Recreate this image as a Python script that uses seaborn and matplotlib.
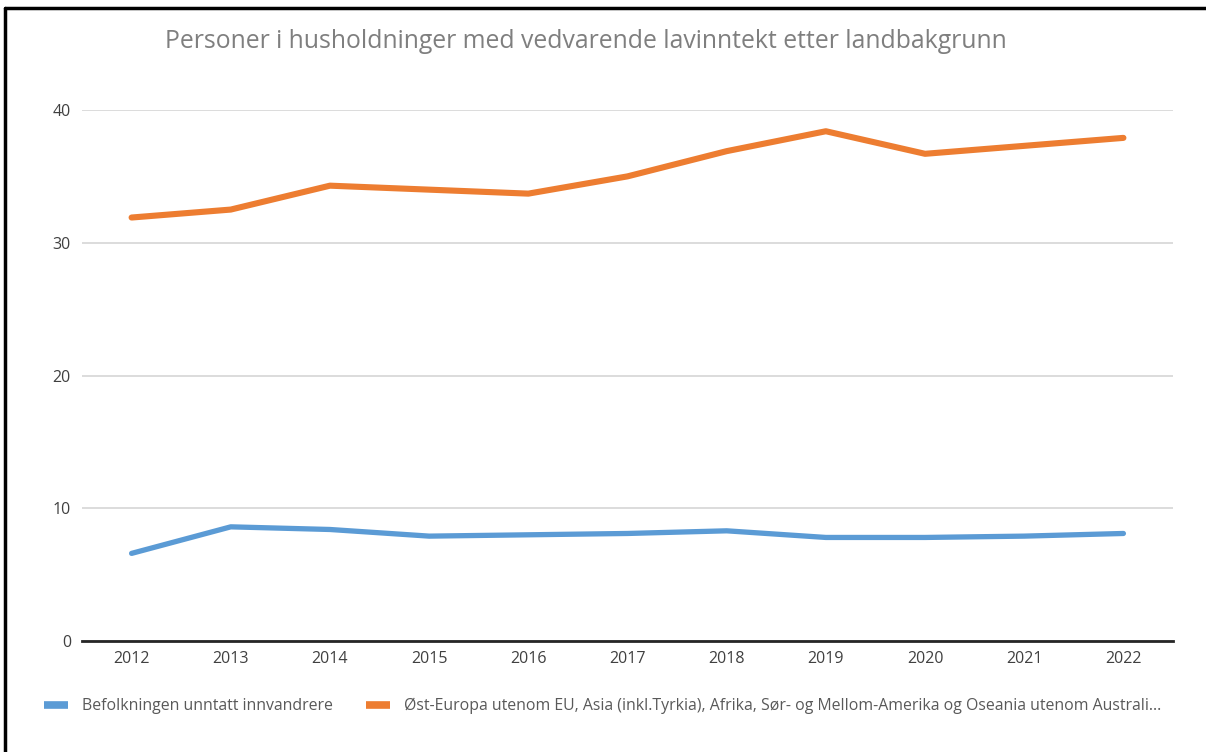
import matplotlib
matplotlib.use("Agg")
import matplotlib.pyplot as plt
import seaborn as sns
import pandas as pd
from matplotlib.lines import Line2D

years = [2012, 2013, 2014, 2015, 2016, 2017, 2018, 2019, 2020, 2021, 2022]
befolkning = [6.6, 8.6, 8.4, 7.9, 8.0, 8.1, 8.3, 7.8, 7.8, 7.9, 8.1]
ost_europa = [31.9, 32.5, 34.3, 34.0, 33.7, 35.0, 36.9, 38.4, 36.7, 37.3, 37.9]
series_names = ["Befolkningen unntatt innvandrere",
                "Øst-Europa utenom EU, Asia (inkl.Tyrkia), Afrika, Sør- og Mellom-Amerika og Oseania utenom Australi..."]
title = "Personer i husholdninger med vedvarende lavinntekt etter landbakgrunn"
yticks = [0, 10, 20, 30, 40]

sns.set_theme(style="white")
plt.rcParams['font.family'] = ['Open Sans', 'DejaVu Sans']

df = pd.DataFrame({
    "pos": list(range(len(years))) * 2,
    "value": befolkning + ost_europa,
    "series": [series_names[0]] * len(years) + [series_names[1]] * len(years),
})

fig = plt.figure(figsize=(12.06, 7.52), dpi=100)
ax = fig.add_axes([82/1206, 1 - 641/752, (1173-82)/1206, (641-110)/752])

colors = ["#5b9bd5", "#ed7d31"]
widths = [3.8, 4.4]
for i, name in enumerate(series_names):
    sub = df[df["series"] == name]
    sns.lineplot(data=sub, x="pos", y="value", ax=ax, color=colors[i],
                 linewidth=widths[i], legend=False, zorder=3)

ax.set_xlim(-0.5, len(years) - 0.5)
ax.set_ylim(0, 40)
ax.set_yticks(yticks)
ax.set_yticklabels([str(t) for t in yticks])
ax.set_xticks(range(len(years)))
ax.set_xticklabels([str(y) for y in years])
ax.set_xlabel("")
ax.set_ylabel("")
ax.grid(axis="y", color="#d9d9d9", linewidth=1.3, zorder=0)
ax.grid(axis="x", visible=False)
for s in ["top", "right", "left"]:
    ax.spines[s].set_visible(False)
ax.spines["bottom"].set_color("#262626")
ax.spines["bottom"].set_linewidth(2.0)
ax.tick_params(axis="both", length=0, labelsize=11.5, colors="#404040")
ax.tick_params(axis="y", pad=8)
ax.tick_params(axis="x", pad=7)

fig.text(586/1206, 1 - 42/752, title, ha="center", va="center",
         fontsize=17.8, color="#7f7f7f")

handles = [Line2D([0], [0], color=colors[i], linewidth=5.5, solid_capstyle="butt")
           for i in range(2)]
leg = fig.legend(handles, series_names, loc="center left", ncol=2,
                 bbox_to_anchor=(30/1206, 1 - 706/752), frameon=False,
                 fontsize=11.4, handlelength=1.5, handletextpad=0.9,
                 columnspacing=2.1)
for t in leg.get_texts():
    t.set_color("#595959")

# figure border (top and left, as in the screenshot crop)
fig.add_artist(Line2D([5/1206, 5/1206], [0, 1 - 8/752], transform=fig.transFigure,
                      color="black", linewidth=2.5))
fig.add_artist(Line2D([5/1206, 1], [1 - 8/752, 1 - 8/752], transform=fig.transFigure,
                      color="black", linewidth=2.5))

fig.savefig("out.png", dpi=100)
